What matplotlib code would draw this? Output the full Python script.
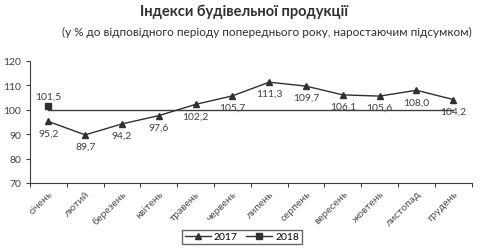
import matplotlib
matplotlib.use("Agg")
import matplotlib.pyplot as plt

plt.rcParams['font.family'] = ['Lato', 'DejaVu Sans']

months = ["січень", "лютий", "березень", "квітень", "травень", "червень",
          "липень", "серпень", "вересень", "жовтень", "листопад", "грудень"]
idx_2017 = [95.2, 89.7, 94.2, 97.6, 102.2, 105.7, 111.3, 109.7, 106.1, 105.6, 108.0, 104.2]
idx_2018 = [101.5]
base = [100] * 12

def fmt(v):
    return f"{v:.1f}".replace(".", ",")

fig = plt.figure(figsize=(4.8, 2.53), dpi=100)
ax = fig.add_axes([0.0625, 0.273, 0.92, 0.482])

x = list(range(len(months)))
ax.plot(x, base, color="#404040", linewidth=1.0)
ax.plot(x, idx_2017, color="#303030", linewidth=1.0, marker="^", markersize=4, label="2017")
ax.plot(x[:1], idx_2018, color="#303030", linewidth=1.0, marker="s", markersize=4, label="2018")

for xi, v in zip(x, idx_2017):
    ax.annotate(fmt(v), (xi, v), xytext=(0, -5), textcoords="offset points",
                ha="center", va="top", fontsize=7.5, color="#404040")
ax.annotate(fmt(idx_2018[0]), (0, idx_2018[0]), xytext=(0, 4), textcoords="offset points",
            ha="center", va="bottom", fontsize=7.5, color="#404040")

ax.set_ylim(70, 120)
ax.set_yticks(range(70, 121, 10))
ax.set_xlim(-0.5, 11.5)
ax.set_xticks([i - 0.5 for i in range(13)])
ax.set_xticklabels([])
ax.set_xticks(x, minor=True)
ax.set_xticklabels(months, minor=True, rotation=45, ha="right", rotation_mode="anchor",
                   fontsize=7.5, color="#505050")
ax.tick_params(axis="x", which="minor", length=0, pad=4)
ax.tick_params(axis="x", which="major", length=3, direction="out", color="#404040")
ax.tick_params(axis="y", length=3, labelsize=7.5, colors="#404040")
for s in ["top", "right"]:
    ax.spines[s].set_visible(False)
for s in ["left", "bottom"]:
    ax.spines[s].set_color("#404040")
    ax.spines[s].set_linewidth(0.8)

leg = ax.legend(loc="upper center", bbox_to_anchor=(0.48, -0.34), ncol=2, fontsize=7.5,
                frameon=True, fancybox=False, edgecolor="#404040", handlelength=2.5,
                columnspacing=0.8, handletextpad=0.3, borderpad=0.25)

fig.text(0.508, 0.955, "Індекси будівельної продукції", ha="center", va="center",
         fontsize=10.5, fontweight="bold", color="#303030")
fig.text(0.556, 0.873, "(у % до відповідного періоду попереднього року, наростаючим підсумком)",
         ha="center", va="center", fontsize=8.5, color="#303030")

fig.savefig("out.png", dpi=100)
